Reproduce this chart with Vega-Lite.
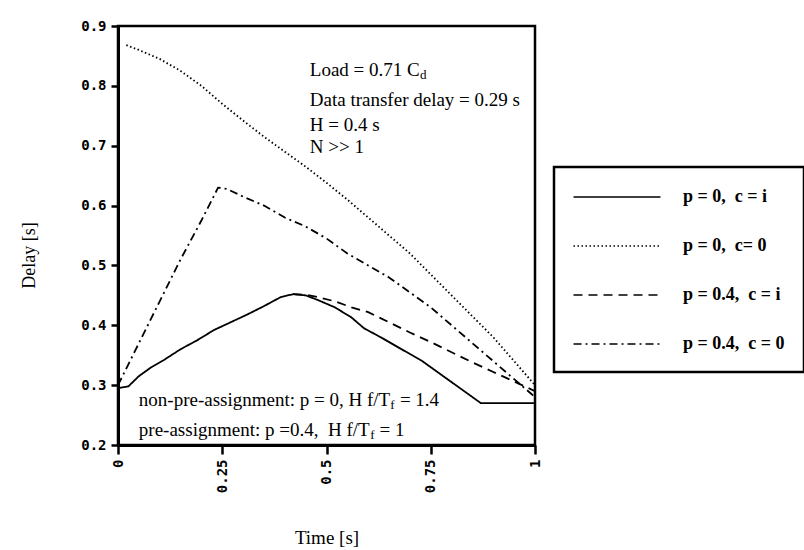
{
  "$schema": "https://vega.github.io/schema/vega-lite/v6.json",
  "width": 417,
  "height": 419,
  "autosize": {"type": "none"},
  "padding": {"left": 118, "top": 26, "right": 269, "bottom": 105},
  "background": "white",
  "config": {
    "view": {"stroke": "black", "strokeWidth": 2.5},
    "font": "Liberation Serif",
    "axis": {
      "grid": false,
      "domainColor": "black",
      "domainWidth": 3,
      "tickColor": "black",
      "tickWidth": 2.5,
      "tickSize": 7,
      "labelFont": "DejaVu Sans Mono",
      "labelFontWeight": "bold",
      "labelFontSize": 14,
      "labelColor": "black",
      "labelFlush": false,
      "labelOverlap": false,
      "titleFont": "Liberation Serif",
      "titleFontWeight": "normal",
      "titleColor": "black"
    }
  },
  "datasets": {
    "curves": [
      {"series": "p = 0,\u00a0 c = i", "t": 0, "delay": 0.295},
      {"series": "p = 0,\u00a0 c = i", "t": 0.025, "delay": 0.298},
      {"series": "p = 0,\u00a0 c = i", "t": 0.05, "delay": 0.315},
      {"series": "p = 0,\u00a0 c = i", "t": 0.08, "delay": 0.33},
      {"series": "p = 0,\u00a0 c = i", "t": 0.11, "delay": 0.342},
      {"series": "p = 0,\u00a0 c = i", "t": 0.15, "delay": 0.36},
      {"series": "p = 0,\u00a0 c = i", "t": 0.19, "delay": 0.375},
      {"series": "p = 0,\u00a0 c = i", "t": 0.23, "delay": 0.392},
      {"series": "p = 0,\u00a0 c = i", "t": 0.27, "delay": 0.405},
      {"series": "p = 0,\u00a0 c = i", "t": 0.31, "delay": 0.418},
      {"series": "p = 0,\u00a0 c = i", "t": 0.35, "delay": 0.432},
      {"series": "p = 0,\u00a0 c = i", "t": 0.39, "delay": 0.447},
      {"series": "p = 0,\u00a0 c = i", "t": 0.42, "delay": 0.452},
      {"series": "p = 0,\u00a0 c = i", "t": 0.45, "delay": 0.45},
      {"series": "p = 0,\u00a0 c = i", "t": 0.48, "delay": 0.442},
      {"series": "p = 0,\u00a0 c = i", "t": 0.52, "delay": 0.43},
      {"series": "p = 0,\u00a0 c = i", "t": 0.56, "delay": 0.413},
      {"series": "p = 0,\u00a0 c = i", "t": 0.59, "delay": 0.395},
      {"series": "p = 0,\u00a0 c = i", "t": 0.63, "delay": 0.38},
      {"series": "p = 0,\u00a0 c = i", "t": 0.68, "delay": 0.36},
      {"series": "p = 0,\u00a0 c = i", "t": 0.73, "delay": 0.34},
      {"series": "p = 0,\u00a0 c = i", "t": 0.78, "delay": 0.315},
      {"series": "p = 0,\u00a0 c = i", "t": 0.83, "delay": 0.29},
      {"series": "p = 0,\u00a0 c = i", "t": 0.87, "delay": 0.27},
      {"series": "p = 0,\u00a0 c = i", "t": 1.0, "delay": 0.27},

      {"series": "p = 0,\u00a0 c= 0", "t": 0.02, "delay": 0.868},
      {"series": "p = 0,\u00a0 c= 0", "t": 0.05, "delay": 0.86},
      {"series": "p = 0,\u00a0 c= 0", "t": 0.1, "delay": 0.845},
      {"series": "p = 0,\u00a0 c= 0", "t": 0.15, "delay": 0.825},
      {"series": "p = 0,\u00a0 c= 0", "t": 0.2, "delay": 0.8},
      {"series": "p = 0,\u00a0 c= 0", "t": 0.25, "delay": 0.77},
      {"series": "p = 0,\u00a0 c= 0", "t": 0.3, "delay": 0.742},
      {"series": "p = 0,\u00a0 c= 0", "t": 0.35, "delay": 0.715},
      {"series": "p = 0,\u00a0 c= 0", "t": 0.4, "delay": 0.69},
      {"series": "p = 0,\u00a0 c= 0", "t": 0.45, "delay": 0.665},
      {"series": "p = 0,\u00a0 c= 0", "t": 0.5, "delay": 0.638},
      {"series": "p = 0,\u00a0 c= 0", "t": 0.55, "delay": 0.61},
      {"series": "p = 0,\u00a0 c= 0", "t": 0.6, "delay": 0.58},
      {"series": "p = 0,\u00a0 c= 0", "t": 0.65, "delay": 0.55},
      {"series": "p = 0,\u00a0 c= 0", "t": 0.7, "delay": 0.52},
      {"series": "p = 0,\u00a0 c= 0", "t": 0.75, "delay": 0.485},
      {"series": "p = 0,\u00a0 c= 0", "t": 0.8, "delay": 0.45},
      {"series": "p = 0,\u00a0 c= 0", "t": 0.85, "delay": 0.415},
      {"series": "p = 0,\u00a0 c= 0", "t": 0.9, "delay": 0.38},
      {"series": "p = 0,\u00a0 c= 0", "t": 0.95, "delay": 0.34},
      {"series": "p = 0,\u00a0 c= 0", "t": 1.0, "delay": 0.3},

      {"series": "p = 0.4,\u00a0 c = i", "t": 0.42, "delay": 0.452},
      {"series": "p = 0.4,\u00a0 c = i", "t": 0.45, "delay": 0.451},
      {"series": "p = 0.4,\u00a0 c = i", "t": 0.48, "delay": 0.447},
      {"series": "p = 0.4,\u00a0 c = i", "t": 0.52, "delay": 0.44},
      {"series": "p = 0.4,\u00a0 c = i", "t": 0.56, "delay": 0.43},
      {"series": "p = 0.4,\u00a0 c = i", "t": 0.6, "delay": 0.422},
      {"series": "p = 0.4,\u00a0 c = i", "t": 0.65, "delay": 0.405},
      {"series": "p = 0.4,\u00a0 c = i", "t": 0.7, "delay": 0.388},
      {"series": "p = 0.4,\u00a0 c = i", "t": 0.75, "delay": 0.372},
      {"series": "p = 0.4,\u00a0 c = i", "t": 0.8, "delay": 0.355},
      {"series": "p = 0.4,\u00a0 c = i", "t": 0.85, "delay": 0.338},
      {"series": "p = 0.4,\u00a0 c = i", "t": 0.9, "delay": 0.322},
      {"series": "p = 0.4,\u00a0 c = i", "t": 0.95, "delay": 0.306},
      {"series": "p = 0.4,\u00a0 c = i", "t": 1.0, "delay": 0.29},

      {"series": "p = 0.4,\u00a0 c = 0", "t": 0, "delay": 0.3},
      {"series": "p = 0.4,\u00a0 c = 0", "t": 0.05, "delay": 0.37},
      {"series": "p = 0.4,\u00a0 c = 0", "t": 0.1, "delay": 0.44},
      {"series": "p = 0.4,\u00a0 c = 0", "t": 0.15, "delay": 0.51},
      {"series": "p = 0.4,\u00a0 c = 0", "t": 0.2, "delay": 0.575},
      {"series": "p = 0.4,\u00a0 c = 0", "t": 0.24, "delay": 0.63},
      {"series": "p = 0.4,\u00a0 c = 0", "t": 0.26, "delay": 0.628},
      {"series": "p = 0.4,\u00a0 c = 0", "t": 0.3, "delay": 0.615},
      {"series": "p = 0.4,\u00a0 c = 0", "t": 0.35, "delay": 0.6},
      {"series": "p = 0.4,\u00a0 c = 0", "t": 0.4, "delay": 0.58},
      {"series": "p = 0.4,\u00a0 c = 0", "t": 0.45, "delay": 0.565},
      {"series": "p = 0.4,\u00a0 c = 0", "t": 0.5, "delay": 0.545},
      {"series": "p = 0.4,\u00a0 c = 0", "t": 0.55, "delay": 0.52},
      {"series": "p = 0.4,\u00a0 c = 0", "t": 0.6, "delay": 0.5},
      {"series": "p = 0.4,\u00a0 c = 0", "t": 0.65, "delay": 0.48},
      {"series": "p = 0.4,\u00a0 c = 0", "t": 0.7, "delay": 0.455},
      {"series": "p = 0.4,\u00a0 c = 0", "t": 0.75, "delay": 0.43},
      {"series": "p = 0.4,\u00a0 c = 0", "t": 0.8, "delay": 0.4},
      {"series": "p = 0.4,\u00a0 c = 0", "t": 0.85, "delay": 0.37},
      {"series": "p = 0.4,\u00a0 c = 0", "t": 0.9, "delay": 0.34},
      {"series": "p = 0.4,\u00a0 c = 0", "t": 0.95, "delay": 0.31},
      {"series": "p = 0.4,\u00a0 c = 0", "t": 1.0, "delay": 0.28}
    ],
    "notes": [
      {"t": 0.46, "delay": 0.826, "label": "Load = 0.71 C"},
      {"t": 0.46, "delay": 0.776, "label": "Data transfer delay = 0.29 s"},
      {"t": 0.46, "delay": 0.735, "label": "H = 0.4 s"},
      {"t": 0.46, "delay": 0.698, "label": "N >> 1"},
      {"t": 0.05, "delay": 0.275, "label": "non-pre-assignment: p = 0, H f/T"},
      {"t": 0.676, "delay": 0.275, "label": "= 1.4"},
      {"t": 0.05, "delay": 0.225, "label": "pre-assignment: p =0.4,\u00a0 H f/T"},
      {"t": 0.627, "delay": 0.225, "label": "= 1"}
    ],
    "subs": [
      {"t": 0.724, "delay": 0.826, "label": "d"},
      {"t": 0.653, "delay": 0.275, "label": "f"},
      {"t": 0.605, "delay": 0.225, "label": "f"}
    ]
  },
  "layer": [
    {
      "data": {"name": "curves"},
      "mark": {"type": "line", "strokeWidth": 1.8, "color": "black", "clip": true},
      "encoding": {
        "x": {
          "field": "t", "type": "quantitative",
          "scale": {"domain": [0, 1], "nice": false, "zero": false},
          "axis": {
            "title": "Time [s]", "values": [0, 0.25, 0.5, 0.75, 1], "labelExpr": "'' + datum.value",
            "labelAngle": 270, "labelAlign": "right", "labelBaseline": "middle",
            "tickSize": 9, "labelPadding": 5,
            "titleFontSize": 19, "titleY": 98, "titleBaseline": "alphabetic"
          }
        },
        "y": {
          "field": "delay", "type": "quantitative",
          "scale": {"domain": [0.2, 0.9], "nice": false, "zero": false},
          "axis": {
            "title": "Delay [s]", "values": [0.2, 0.3, 0.4, 0.5, 0.6, 0.7, 0.8, 0.9], "format": ".1f",
            "labelPadding": 5, "titleFontSize": 18, "titleX": -84, "titleY": 229,
            "titleAngle": 270, "titleBaseline": "alphabetic", "titleAlign": "center"
          }
        },
        "strokeDash": {
          "field": "series", "type": "nominal",
          "scale": {
            "domain": ["p = 0,\u00a0 c = i", "p = 0,\u00a0 c= 0", "p = 0.4,\u00a0 c = i", "p = 0.4,\u00a0 c = 0"],
            "range": [[1, 0], [1.5, 2.5], [9, 6], [8, 4, 2, 4]]
          },
          "legend": {
            "title": null, "orient": "none", "legendX": 436, "legendY": 141,
            "symbolType": "M-4.35,0H4.35", "symbolSize": 400, "symbolStrokeWidth": 1.6,
            "symbolStrokeColor": "black", "symbolFillColor": "transparent",
            "symbolOffset": 33, "labelOffset": 55,
            "labelFont": "Liberation Serif", "labelFontWeight": "bold", "labelFontSize": 18,
            "labelColor": "black", "labelLimit": 300, "rowPadding": 29, "padding": 19,
            "strokeColor": "black", "fillColor": "white",
            "encode": {"legend": {"update": {"strokeWidth": {"value": 2.5}}}}
          }
        }
      }
    },
    {
      "data": {"name": "notes"},
      "mark": {"type": "text", "align": "left", "baseline": "middle", "font": "Liberation Serif", "fontSize": 19, "color": "black"},
      "encoding": {
        "x": {"field": "t", "type": "quantitative"},
        "y": {"field": "delay", "type": "quantitative"},
        "text": {"field": "label"}
      }
    },
    {
      "data": {"name": "subs"},
      "mark": {"type": "text", "align": "left", "baseline": "middle", "font": "Liberation Serif", "fontSize": 13, "dy": 5, "color": "black"},
      "encoding": {
        "x": {"field": "t", "type": "quantitative"},
        "y": {"field": "delay", "type": "quantitative"},
        "text": {"field": "label"}
      }
    }
  ]
}
